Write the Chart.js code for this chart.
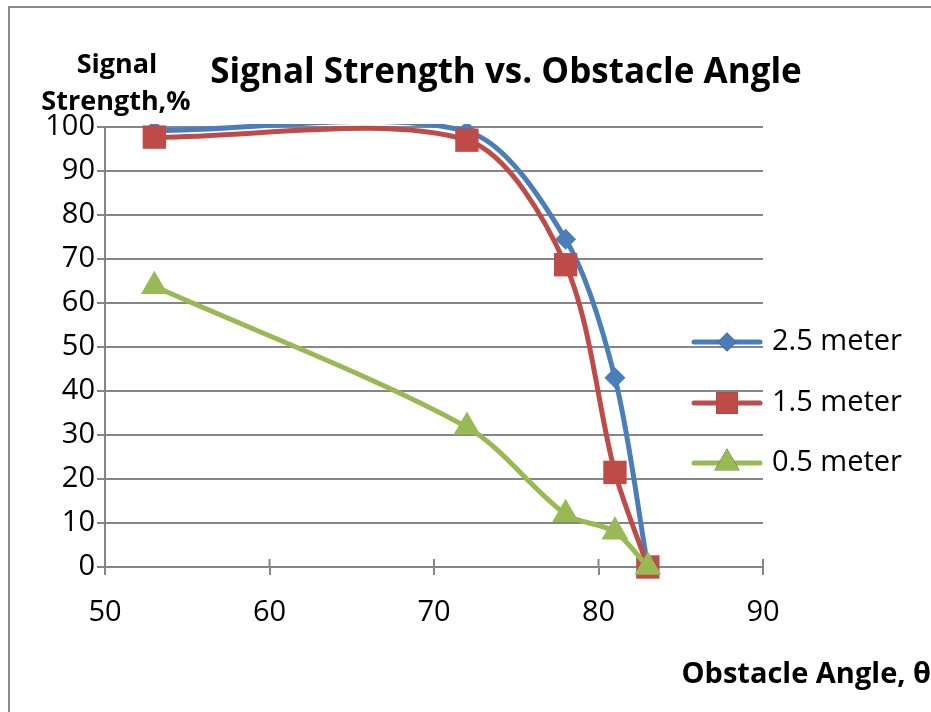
<!DOCTYPE html>
<html>
<head>
<meta charset="utf-8">
<script src="https://cdn.jsdelivr.net/npm/chart.js@4.4.1/dist/chart.umd.min.js"></script>
<style>
  html, body { margin: 0; padding: 0; background: #fff; }
  #wrap { width: 931px; height: 712px; position: relative; }
</style>
</head>
<body>
<div id="wrap"><canvas id="signalChart" width="931" height="712"></canvas></div>
<script>
// data
const angles = [53, 72, 78, 81, 83];
const strength25 = [99.2, 99, 74.5, 43, 0];
const strength15 = [97.7, 97, 68.7, 21.5, 0];
const strength05 = [63.8, 31.8, 12, 8, 0];
const seriesNames = ['2.5 meter', '1.5 meter', '0.5 meter'];
const xTicks = [50, 60, 70, 80, 90];

const FONT = '"Open Sans", "DejaVu Sans", sans-serif';
const GRID = '#868686';

function toPoints(ys) {
  return angles.map((a, i) => ({ x: a, y: ys[i] }));
}

// titles, frame, crossing ticks and the legend on the right
const decorPlugin = {
  id: 'decor',
  beforeDatasetsDraw(chart) {
    // tick marks crossing the x axis, drawn under the lines
    const ctx = chart.ctx;
    const xs = chart.scales.x;
    const y0 = chart.scales.y.getPixelForValue(0);
    ctx.save();
    ctx.strokeStyle = GRID;
    ctx.lineWidth = 2;
    xTicks.forEach(v => {
      const px = xs.getPixelForValue(v);
      ctx.beginPath();
      ctx.moveTo(px, y0 - 8);
      ctx.lineTo(px, y0);
      ctx.stroke();
    });
    ctx.restore();
  },
  afterDraw(chart) {
    const ctx = chart.ctx;
    ctx.save();

    // outer frame (only top and left edges are visible)
    ctx.strokeStyle = '#8c8c8c';
    ctx.lineWidth = 2;
    ctx.beginPath();
    ctx.moveTo(9, 712);
    ctx.lineTo(9, 7);
    ctx.lineTo(931, 7);
    ctx.stroke();

    ctx.fillStyle = '#000';
    ctx.textBaseline = 'middle';

    ctx.font = 'bold 35px ' + FONT;
    ctx.textAlign = 'center';
    ctx.fillText('Signal Strength vs. Obstacle Angle', 506, 73);

    ctx.font = 'bold 27px ' + FONT;
    ctx.fillText('Signal', 117, 65);
    ctx.fillText('Strength,%', 116, 102);

    ctx.font = 'bold 29px ' + FONT;
    ctx.textAlign = 'right';
    ctx.fillText('Obstacle Angle, \u03b8', 931, 675);

    // legend
    const rows = [342, 403, 463];
    ctx.textAlign = 'left';
    ctx.font = '29px ' + FONT;
    chart.data.datasets.forEach((ds, i) => {
      const y = rows[i];
      ctx.strokeStyle = ds.borderColor;
      ctx.lineWidth = 5;
      ctx.lineCap = 'round';
      ctx.beginPath();
      ctx.moveTo(694, y);
      ctx.lineTo(760, y);
      ctx.stroke();
      Chart.helpers.drawPoint(ctx, {
        pointStyle: ds.pointStyle,
        radius: ds.pointRadius - 1,
        borderWidth: 0,
        rotation: 0
      }, 727, y);
      ctx.fillStyle = ds.backgroundColor;
      ctx.fill();
      ctx.fillStyle = '#000';
      ctx.fillText(seriesNames[i], 772, y);
    });
    ctx.restore();
  }
};

// later series are painted over earlier ones, like the original
function makeSet(label, ys, color, style, radius, order) {
  return {
    label: label,
    data: toPoints(ys),
    borderColor: color,
    backgroundColor: color,
    borderWidth: 5,
    pointStyle: style,
    pointRadius: radius,
    pointHoverRadius: radius,
    pointBorderWidth: 0,
    tension: 0.3,
    capBezierPoints: false,
    order: order,
    clip: { left: false, right: false, bottom: false, top: 3 }
  };
}

const ctx = document.getElementById('signalChart').getContext('2d');
new Chart(ctx, {
  type: 'line',
  data: {
    datasets: [
      makeSet(seriesNames[0], strength25, '#4a7ebb', 'rectRot', 10.5, 3),
      makeSet(seriesNames[1], strength15, '#be4b48', 'rect', 16.5, 2),
      makeSet(seriesNames[2], strength05, '#98b954', 'triangle', 15.5, 1)
    ]
  },
  options: {
    responsive: false,
    animation: false,
    plugins: {
      legend: { display: false },
      title: { display: false },
      tooltip: { enabled: false }
    },
    layout: { padding: { left: 0, top: 127, right: 168, bottom: 65 } },
    scales: {
      x: {
        type: 'linear',
        min: 50,
        max: 90,
        afterBuildTicks(scale) {
          scale.ticks = xTicks.map(v => ({ value: v }));
        },
        afterFit(scale) { scale.height = 80; },
        border: { display: true, color: GRID, width: 2 },
        grid: { drawOnChartArea: false, color: GRID, lineWidth: 2, tickLength: 8 },
        ticks: { color: '#000', font: { family: FONT, size: 29 }, padding: 20, maxRotation: 0 }
      },
      y: {
        min: 0,
        max: 100,
        afterFit(scale) { scale.width = 105; },
        border: { display: true, color: GRID, width: 2 },
        grid: { color: GRID, lineWidth: 2, tickLength: 8 },
        ticks: { stepSize: 10, color: '#000', font: { family: FONT, size: 29 }, padding: 2 }
      }
    }
  },
  plugins: [decorPlugin]
});
</script>
</body>
</html>
